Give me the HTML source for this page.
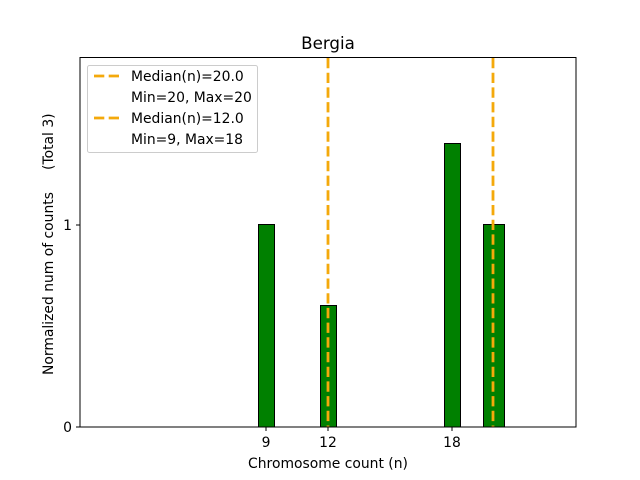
<!DOCTYPE html>
<html><head><style>body{margin:0;background:#fff}svg{display:block}text{font-family:"DejaVu Sans","Liberation Sans",sans-serif;fill:#000;white-space:pre}</style></head>
<body>
<svg width="640" height="480" xmlns="http://www.w3.org/2000/svg" xml:space="preserve">
<rect width="640" height="480" fill="#fff"/>
<text x="328" y="49" font-size="16.7" text-anchor="middle">Bergia</text>
<g stroke="#000" stroke-width="1" fill="#008000">
<rect x="258.5" y="224.5" width="16" height="202.5"/>
<rect x="320.5" y="305.5" width="16" height="121.5"/>
<rect x="444.5" y="143.5" width="16" height="283.5"/>
<rect x="483.5" y="224.5" width="21" height="202.5"/>
</g>
<g stroke="#f4a90b" stroke-width="2.8" stroke-dasharray="10.3,4.4">
<line x1="328" y1="58" x2="328" y2="427"/>
<line x1="493" y1="58" x2="493" y2="427"/>
</g>
<rect x="80" y="57.5" width="496" height="369.5" fill="none" stroke="#000" stroke-width="1"/>
<g stroke="#000" stroke-width="1">
<line x1="266" y1="427" x2="266" y2="431"/><line x1="328" y1="427" x2="328" y2="431"/><line x1="452" y1="427" x2="452" y2="431"/>
<line x1="76" y1="427" x2="80" y2="427"/><line x1="76" y1="225" x2="80" y2="225"/>
</g>
<g font-size="13.9" text-anchor="middle">
<text x="266" y="447">9</text><text x="328" y="447">12</text><text x="452" y="447">18</text>
<text x="328" y="468">Chromosome count (n)</text>
</g>
<g font-size="13.9" text-anchor="end">
<text x="72" y="432">0</text><text x="72" y="230">1</text>
</g>
<text transform="translate(53,375) rotate(-90)" font-size="13.9" text-anchor="start">Normalized num of counts     (Total 3)</text>
<rect x="87.5" y="65.5" width="170" height="87" rx="2" fill="#fff" stroke="#ccc"/>
<g stroke="#f4a90b" stroke-width="2.8" stroke-dasharray="10.3,4.4">
<line x1="94" y1="76" x2="122" y2="76"/><line x1="94" y1="118" x2="122" y2="118"/>
</g>
<g font-size="13.9">
<text x="131" y="81">Median(n)=20.0</text>
<text x="131" y="102">Min=20, Max=20</text>
<text x="131" y="123">Median(n)=12.0</text>
<text x="131" y="144">Min=9, Max=18</text>
</g>
</svg>
</body></html>
